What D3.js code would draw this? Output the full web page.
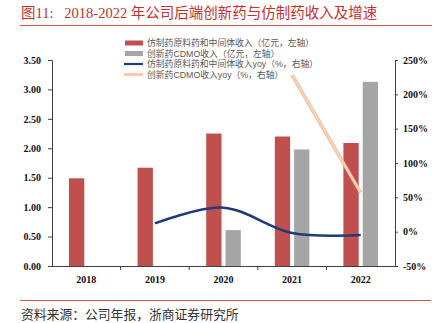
<!DOCTYPE html>
<html><head><meta charset="utf-8">
<script src="https://cdn.jsdelivr.net/npm/d3@7"></script>
<style>
html,body{margin:0;padding:0;background:#fff;}
svg{display:block;}
</style></head>
<body>
<svg id="c" width="435" height="323"></svg>
<script>
const years = ['2018','2019','2020','2021','2022'];
const genericRev = [1.49, 1.67, 2.25, 2.20, 2.09];
const cdmoRev = [null, null, 0.61, 1.98, 3.13];
const genericYoy = [null, 0.12, 0.35, -0.02, -0.05];
const cdmoYoy = [null, null, null, 2.28, 0.57];
const leftTicks = [0, 0.5, 1, 1.5, 2, 2.5, 3, 3.5];
const rightTicks = [-0.5, 0, 0.5, 1, 1.5, 2, 2.5];
const legendLabels = ['仿制药原料药和中间体收入（亿元，左轴）','创新药CDMO收入（亿元，左轴）','仿制药原料药和中间体收入yoy（%，右轴）','创新药CDMO收入yoy（%，右轴）'];
const legendWidths = [167, 123, 168, 124];
const titleText = '图11:   2018-2022 年公司后端创新药与仿制药收入及增速';
const sourceText = '资料来源：公司年报，浙商证券研究所';

const svg = d3.select('#c');
const serif = '"Liberation Serif","Noto Sans CJK SC",serif';
const cjk = '"Noto Sans CJK SC","Liberation Serif",sans-serif';
const legendFont = '"Liberation Sans","Noto Sans CJK SC",sans-serif';

const x = d3.scaleBand().domain(years).range([52, 395]).padding(0);
const yL = d3.scaleLinear().domain([0, 3.5]).range([266, 60]);
const yR = d3.scaleLinear().domain([-0.5, 2.5]).range([266, 60]);

// title
svg.append('text').attr('x', 21).attr('y', 17.5).attr('fill', '#C8302C')
  .attr('font-family', serif).attr('font-size', 14.5).attr('xml:space','preserve')
  .style('white-space','pre').text(titleText);
svg.append('line').attr('x1', 20).attr('x2', 432).attr('y1', 25.5).attr('y2', 25.5)
  .attr('stroke', '#D9534F').attr('stroke-width', 1);

// bars
const bw = 15.3;
const cx = d => x(d) + x.bandwidth() / 2;
svg.append('g').selectAll('rect').data(years.map((d, i) => ({y: d, v: genericRev[i]})).filter(d => d.v != null))
  .join('rect').attr('x', d => cx(d.y) - 17.3).attr('width', bw)
  .attr('y', d => yL(d.v)).attr('height', d => yL(0) - yL(d.v)).attr('fill', '#C0504D');
svg.append('g').selectAll('rect').data(years.map((d, i) => ({y: d, v: cdmoRev[i]})).filter(d => d.v != null))
  .join('rect').attr('x', d => cx(d.y) + 2).attr('width', bw)
  .attr('y', d => yL(d.v)).attr('height', d => yL(0) - yL(d.v)).attr('fill', '#A5A5A5');

// axes
const axisColor = '#404040';
const gL = svg.append('g').attr('transform', 'translate(52,0)')
  .call(d3.axisLeft(yL).tickValues(leftTicks).tickFormat(d3.format('.2f')).tickSize(4).tickPadding(7));
const gR = svg.append('g').attr('transform', 'translate(395,0)')
  .call(d3.axisRight(yR).tickValues(rightTicks).tickFormat(d => Math.round(d * 100) + '%').tickSize(3).tickPadding(5));
const gX = svg.append('g').attr('transform', 'translate(0,266)')
  .call(d3.axisBottom(x).tickSize(0).tickPadding(10));
svg.append('g').selectAll('line').data(years.slice(1)).join('line')
  .attr('x1', d => x(d)).attr('x2', d => x(d)).attr('y1', 266).attr('y2', 270)
  .attr('stroke', axisColor);
[gL, gR, gX].forEach(g => {
  g.select('.domain').attr('stroke', axisColor).attr('stroke-width', 1);
  g.selectAll('.tick line').attr('stroke', axisColor);
  g.selectAll('.tick text').attr('font-family', serif).attr('font-weight', 'bold')
    .attr('font-size', 10).attr('fill', '#111');
});
gL.select('.domain').attr('d', 'M-4,60.5H0.5V266.5H-4');
gR.select('.domain').attr('d', 'M3,60.5H0.5V266.5H3');
gX.select('.domain').attr('d', 'M52,0.5H395');
gX.selectAll('.tick text').attr('dy', '0.71em');

// lines
const ptsG = years.map((d, i) => [cx(d), genericYoy[i]]).filter(d => d[1] != null).map(d => [d[0], yR(d[1])]);
const ptsC = years.map((d, i) => [cx(d), cdmoYoy[i]]).filter(d => d[1] != null).map(d => [d[0], yR(d[1])]);
const line = d3.line().curve(d3.curveCardinal.tension(0));

// legend
const lg = svg.append('g');
const rows = [43, 53.5, 64, 74.5];
lg.append('rect').attr('x', 125).attr('y', rows[0] - 2.5).attr('width', 18).attr('height', 5).attr('fill', '#C0504D');
lg.append('rect').attr('x', 125).attr('y', rows[1] - 2.5).attr('width', 18).attr('height', 5).attr('fill', '#A5A5A5');
lg.append('line').attr('x1', 124).attr('x2', 143).attr('y1', rows[2]).attr('y2', rows[2]).attr('stroke', '#1F3B7A').attr('stroke-width', 2.2);
lg.append('line').attr('x1', 124).attr('x2', 143).attr('y1', rows[3]).attr('y2', rows[3]).attr('stroke', '#F8CBAD').attr('stroke-width', 3);
lg.selectAll('text').data(legendLabels).join('text')
  .attr('x', 147).attr('y', (d, i) => rows[i]).attr('dy', '0.35em')
  .attr('font-family', legendFont).attr('font-size', 8.8).attr('fill', '#595959').text(d => d)
  .each(function (d, i) {
    const len = this.getComputedTextLength();
    const n = Array.from(d).length;
    const ls = Math.max(0, (legendWidths[i] - len) / n);
    d3.select(this).style('letter-spacing', ls + 'px');
  });

svg.append('path').attr('d', line(ptsG)).attr('fill', 'none').attr('stroke', '#1F3B7A').attr('stroke-width', 2.5);
svg.append('path').attr('d', line(ptsC)).attr('fill', 'none').attr('stroke', '#EDB48C').attr('stroke-width', 3.4);
svg.append('path').attr('d', line(ptsC)).attr('fill', 'none').attr('stroke', '#FAD5B8').attr('stroke-width', 2);

// footer
svg.append('line').attr('x1', 20).attr('x2', 431).attr('y1', 300.5).attr('y2', 300.5)
  .attr('stroke', '#D9534F').attr('stroke-width', 1);
svg.append('text').attr('x', 21).attr('y', 319).attr('fill', '#333')
  .attr('font-family', cjk).attr('font-size', 12.8).text(sourceText);
</script>
</body></html>
